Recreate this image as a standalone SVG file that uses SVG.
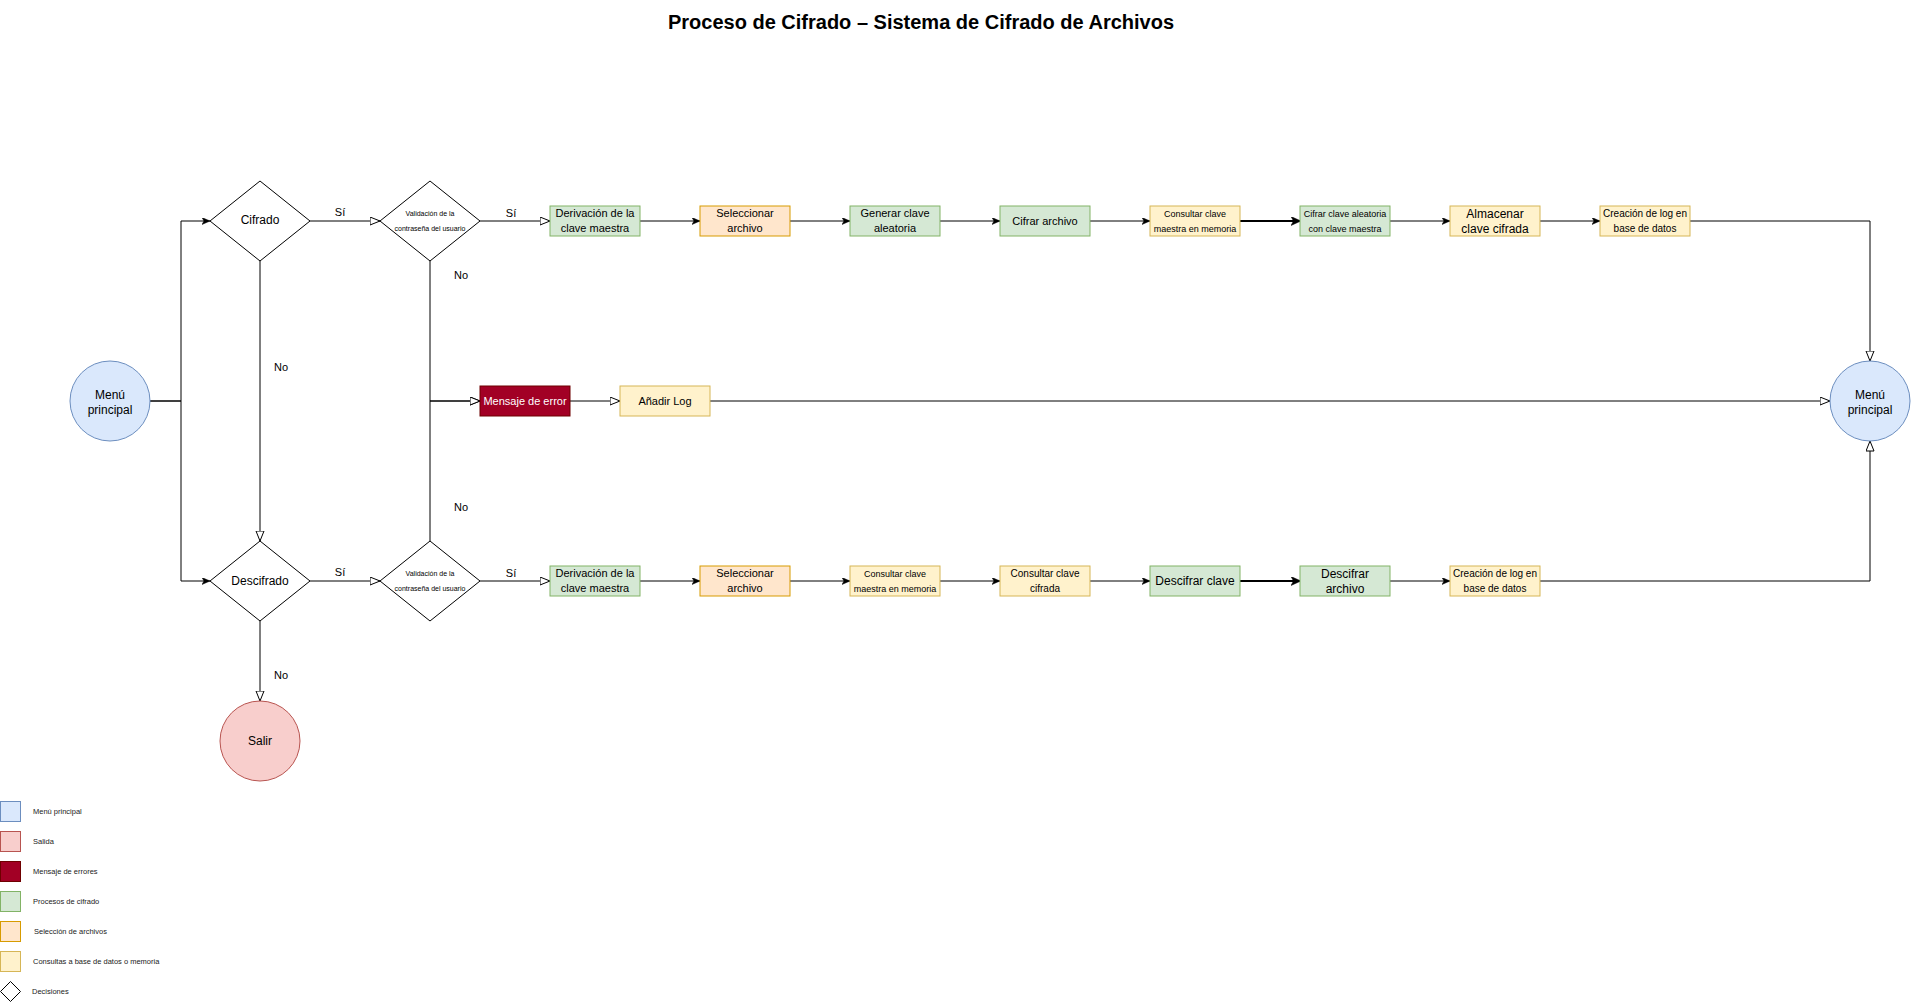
<svg xmlns="http://www.w3.org/2000/svg" width="1911" height="1005" viewBox="0 0 1911 1005">
<style>
text{font-family:"Liberation Sans",Arial,sans-serif;fill:#000;text-anchor:middle}
.g{fill:#d5e8d4;stroke:#82b366;stroke-width:1}
.o{fill:#ffe6cc;stroke:#d79b00;stroke-width:1}
.y{fill:#fff2cc;stroke:#d6b656;stroke-width:1}
.b{fill:#dae8fc;stroke:#6c8ebf;stroke-width:1}
.r{fill:#f8cecc;stroke:#b85450;stroke-width:1}
.e{fill:#a20025;stroke:#6f0000;stroke-width:1}
.d{fill:#fff;stroke:#000;stroke-width:1}
.c{fill:none;stroke:#000;stroke-width:1}
.ck{fill:none;stroke:#000;stroke-width:2}
.f11{font-size:11px}
.f12{font-size:12px}
.f9{font-size:9px}
.f10{font-size:10px}
.f7{font-size:7px}
.lg{font-size:7.5px;text-anchor:start;fill:#222}
.lbl{font-size:11px}
</style>
<defs>
<marker id="cl" markerUnits="userSpaceOnUse" markerWidth="10" markerHeight="8" refX="8" refY="3.5" orient="auto" viewBox="0 0 10 8">
<path d="M0,0 L8,3.5 L0,7 L2,3.5 Z" fill="#000" stroke="#000" stroke-width="0.5"/>
</marker>
<marker id="clk" markerUnits="userSpaceOnUse" markerWidth="12" markerHeight="10" refX="9" refY="4.5" orient="auto" viewBox="0 0 12 10">
<path d="M0,0 L10,4.5 L0,9 L2.5,4.5 Z" fill="#000" stroke="#000" stroke-width="0.5"/>
</marker>
<marker id="op" markerUnits="userSpaceOnUse" markerWidth="12" markerHeight="10" refX="10.5" refY="4.5" orient="auto" viewBox="0 0 12 10">
<path d="M0.5,0.5 L10.5,4.5 L0.5,8.5 Z" fill="#fff" stroke="#000" stroke-width="1"/>
</marker>
</defs>

<text x="921" y="29" style="font-size:20px;font-weight:bold">Proceso de Cifrado – Sistema de Cifrado de Archivos</text>

<g transform="translate(0,1)">
<g id="connectors">
<path class="c" d="M150,400 H181 V220 H210" marker-end="url(#cl)"/>
<path class="c" d="M150,400 H181 V580 H210" marker-end="url(#cl)"/>
<path class="c" d="M310,220 H380" marker-end="url(#op)"/>
<path class="c" d="M480,220 H550" marker-end="url(#op)"/>
<path class="c" d="M260,260 V540" marker-end="url(#op)"/>
<path class="c" d="M310,580 H380" marker-end="url(#op)"/>
<path class="c" d="M480,580 H550" marker-end="url(#op)"/>
<path class="c" d="M260,620 V700" marker-end="url(#op)"/>
<path class="c" d="M430,260 V400 H480" marker-end="url(#op)"/>
<path class="c" d="M430,540 V400 H480" marker-end="url(#op)"/>
<path class="c" d="M570,400 H620" marker-end="url(#op)"/>
<path class="c" d="M710,400 H1830" marker-end="url(#op)"/>
<path class="c" d="M640,220 H700" marker-end="url(#cl)"/>
<path class="c" d="M790,220 H850" marker-end="url(#cl)"/>
<path class="c" d="M940,220 H1000" marker-end="url(#cl)"/>
<path class="c" d="M1090,220 H1150" marker-end="url(#cl)"/>
<path class="ck" d="M1240,220 H1300" marker-end="url(#clk)"/>
<path class="c" d="M1390,220 H1450" marker-end="url(#cl)"/>
<path class="c" d="M1540,220 H1600" marker-end="url(#cl)"/>
<path class="c" d="M1690,220 H1870 V360" marker-end="url(#op)"/>
<path class="c" d="M640,580 H700" marker-end="url(#cl)"/>
<path class="c" d="M790,580 H850" marker-end="url(#cl)"/>
<path class="c" d="M940,580 H1000" marker-end="url(#cl)"/>
<path class="c" d="M1090,580 H1150" marker-end="url(#cl)"/>
<path class="ck" d="M1240,580 H1300" marker-end="url(#clk)"/>
<path class="c" d="M1390,580 H1450" marker-end="url(#cl)"/>
<path class="c" d="M1540,580 H1870 V440" marker-end="url(#op)"/>
<text class="lbl" x="340" y="215">Sí</text>
<text class="lbl" x="511" y="216">Sí</text>
<text class="lbl" x="340" y="575">Sí</text>
<text class="lbl" x="511" y="576">Sí</text>
<text class="lbl" x="281" y="370">No</text>
<text class="lbl" x="461" y="278">No</text>
<text class="lbl" x="461" y="510">No</text>
<text class="lbl" x="281" y="678">No</text>
</g>

<g id="menu-left"><circle class="b" cx="110" cy="400" r="40"/><text class="f12" x="110" y="398">Menú</text><text class="f12" x="110" y="413">principal</text></g>
<g id="menu-right"><circle class="b" cx="1870" cy="400" r="40"/><text class="f12" x="1870" y="398">Menú</text><text class="f12" x="1870" y="413">principal</text></g>
<g id="salir"><circle class="r" cx="260" cy="740" r="40"/><text class="f12" x="260" y="744">Salir</text></g>

<g id="cifrado"><path class="d" d="M260,180 L310,220 L260,260 L210,220 Z"/><text class="f12" x="260" y="223">Cifrado</text></g>
<g id="descifrado"><path class="d" d="M260,540 L310,580 L260,620 L210,580 Z"/><text class="f12" x="260" y="584">Descifrado</text></g>
<g id="validacion1"><path class="d" d="M430,180 L480,220 L430,260 L380,220 Z"/><text class="f7" x="430" y="215">Validación de la</text><text class="f7" x="430" y="230">contraseña del usuario</text></g>
<g id="validacion2"><path class="d" d="M430,540 L480,580 L430,620 L380,580 Z"/><text class="f7" x="430" y="575">Validación de la</text><text class="f7" x="430" y="590">contraseña del usuario</text></g>

<g id="error"><rect class="e" x="480" y="385" width="90" height="30"/><text class="f11" x="525" y="404" style="fill:#fff">Mensaje de error</text></g>
<g id="anadir-log"><rect class="y" x="620" y="385" width="90" height="30"/><text class="f11" x="665" y="404">Añadir Log</text></g>

<g id="c1"><rect class="g" x="550" y="205" width="90" height="30"/><text class="f11" x="595" y="216">Derivación de la</text><text class="f11" x="595" y="231">clave maestra</text></g>
<g id="c2"><rect class="o" x="700" y="205" width="90" height="30"/><text class="f11" x="745" y="216">Seleccionar</text><text class="f11" x="745" y="231">archivo</text></g>
<g id="c3"><rect class="g" x="850" y="205" width="90" height="30"/><text class="f11" x="895" y="216">Generar clave</text><text class="f11" x="895" y="231">aleatoria</text></g>
<g id="c4"><rect class="g" x="1000" y="205" width="90" height="30"/><text class="f11" x="1045" y="224">Cifrar archivo</text></g>
<g id="c5"><rect class="y" x="1150" y="205" width="90" height="30"/><text class="f9" x="1195" y="216">Consultar clave</text><text class="f9" x="1195" y="231">maestra en memoria</text></g>
<g id="c6"><rect class="g" x="1300" y="205" width="90" height="30"/><text class="f9" x="1345" y="216">Cifrar clave aleatoria</text><text class="f9" x="1345" y="231">con clave maestra</text></g>
<g id="c7"><rect class="y" x="1450" y="205" width="90" height="30"/><text class="f12" x="1495" y="217">Almacenar</text><text class="f12" x="1495" y="232">clave cifrada</text></g>
<g id="c8"><rect class="y" x="1600" y="205" width="90" height="30"/><text class="f10" x="1645" y="216">Creación de log en</text><text class="f10" x="1645" y="231">base de datos</text></g>

<g id="d1"><rect class="g" x="550" y="565" width="90" height="30"/><text class="f11" x="595" y="576">Derivación de la</text><text class="f11" x="595" y="591">clave maestra</text></g>
<g id="d2"><rect class="o" x="700" y="565" width="90" height="30"/><text class="f11" x="745" y="576">Seleccionar</text><text class="f11" x="745" y="591">archivo</text></g>
<g id="d3"><rect class="y" x="850" y="565" width="90" height="30"/><text class="f9" x="895" y="576">Consultar clave</text><text class="f9" x="895" y="591">maestra en memoria</text></g>
<g id="d4"><rect class="y" x="1000" y="565" width="90" height="30"/><text class="f10" x="1045" y="576">Consultar clave</text><text class="f10" x="1045" y="591">cifrada</text></g>
<g id="d5"><rect class="g" x="1150" y="565" width="90" height="30"/><text class="f12" x="1195" y="584">Descifrar clave</text></g>
<g id="d6"><rect class="g" x="1300" y="565" width="90" height="30"/><text class="f12" x="1345" y="577">Descifrar</text><text class="f12" x="1345" y="592">archivo</text></g>
<g id="d7"><rect class="y" x="1450" y="565" width="90" height="30"/><text class="f10" x="1495" y="576">Creación de log en</text><text class="f10" x="1495" y="591">base de datos</text></g>

<g id="legend">
<rect class="b" x="0.5" y="800.5" width="20" height="20"/><text class="lg" x="33" y="813">Menú principal</text>
<rect class="r" x="0.5" y="830.5" width="20" height="20"/><text class="lg" x="33" y="843">Salida</text>
<rect class="e" x="0.5" y="860.5" width="20" height="20"/><text class="lg" x="33" y="873">Mensaje de errores</text>
<rect class="g" x="0.5" y="890.5" width="20" height="20"/><text class="lg" x="33" y="903">Procesos de cifrado</text>
<rect class="o" x="0.5" y="920.5" width="20" height="20"/><text class="lg" x="34" y="933">Selección de archivos</text>
<rect class="y" x="0.5" y="950.5" width="20" height="20"/><text class="lg" x="33" y="963">Consultas a base de datos o memoria</text>
<path class="d" d="M10.5,980.5 L20.5,990.5 L10.5,1000.5 L0.5,990.5 Z"/><text class="lg" x="32" y="993">Decisiones</text>
</g>
</g>
</svg>
